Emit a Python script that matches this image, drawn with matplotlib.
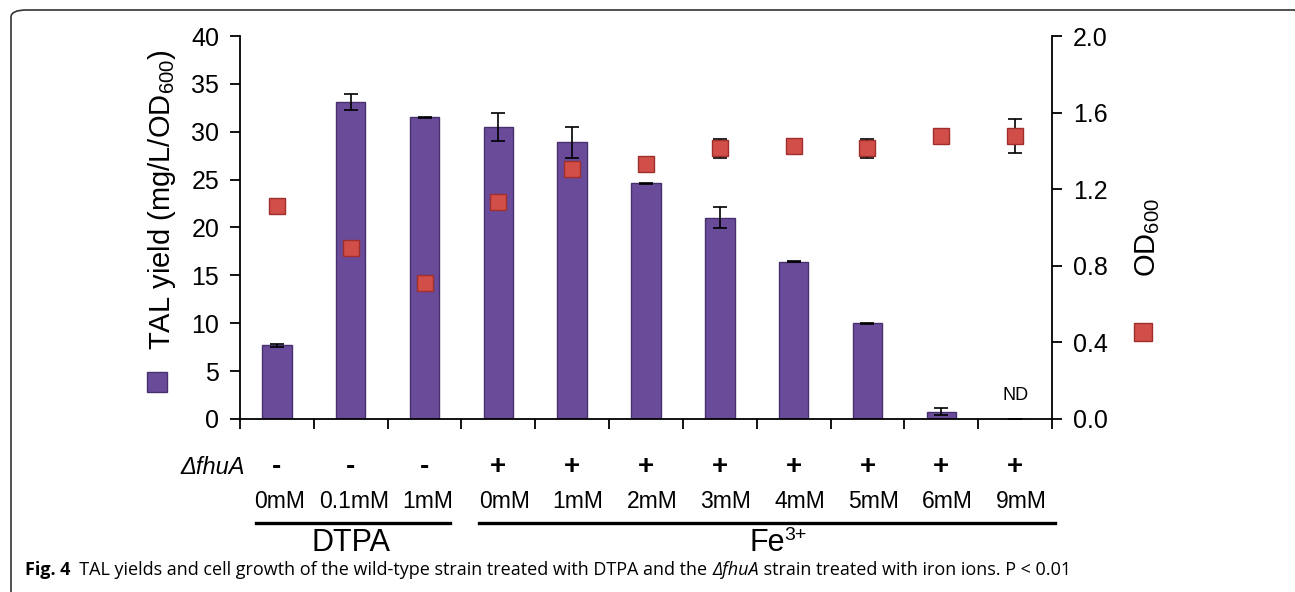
#!/usr/bin/env python3
"""TAL yield bars with OD600 squares on a twin axis (DTPA vs Fe3+ treatments)."""

import matplotlib

matplotlib.use("Agg")
import matplotlib.pyplot as plt
from matplotlib.patches import FancyBboxPatch
from matplotlib.transforms import ScaledTranslation, blended_transform_factory

plt.rcParams["font.family"] = ["Liberation Sans", "DejaVu Sans"]
plt.rcParams["mathtext.fontset"] = "custom"
plt.rcParams["mathtext.rm"] = "Liberation Sans"
plt.rcParams["mathtext.it"] = "Liberation Sans:italic"

# data
conc_labels = ["0mM", "0.1mM", "1mM", "0mM", "1mM", "2mM", "3mM", "4mM", "5mM", "6mM", "9mM"]
strain_signs = ["-", "-", "-", "+", "+", "+", "+", "+", "+", "+", "+"]
tal_yield = [7.7, 33.1, 31.5, 30.5, 28.9, 24.6, 21.0, 16.4, 10.0, 0.77, 0.0]
tal_err = [0.15, 0.8, 0.05, 1.5, 1.6, 0.05, 1.1, 0.05, 0.05, 0.35, 0.0]
od600 = [1.114, 0.895, 0.709, 1.135, 1.305, 1.332, 1.414, 1.426, 1.414, 1.48, 1.479]
od_err = [0.0, 0.0, 0.0, 0.0, 0.0, 0.0, 0.05, 0.0, 0.05, 0.0, 0.09]

W, H = 1295, 592
BAR = "#6a4b9a"
BAR_EDGE = "#47306e"
SQ = "#d24f49"
SQ_EDGE = "#9e2f2c"


def fy(py):
    return 1 - py / H


def fx(px):
    return px / W


fig = plt.figure(figsize=(W / 100, H / 100), dpi=100)
ax = fig.add_axes([fx(240), fy(419), fx(1052) - fx(240), fy(36) - fy(419)])
ax2 = ax.twinx()

x = list(range(len(tal_yield)))
ax.bar(x, tal_yield, width=0.4, color=BAR, edgecolor=BAR_EDGE, linewidth=1.0, zorder=2)
ax.errorbar(x, tal_yield, yerr=tal_err, fmt="none", ecolor="black", elinewidth=1.2,
            capsize=5, capthick=1.2, zorder=3)
ax2.errorbar(x, od600, yerr=od_err, fmt="none", ecolor="black", elinewidth=1.2,
             capsize=5, capthick=1.2, zorder=3)
ax2.plot(x, od600, linestyle="none", marker="s", markersize=12, markerfacecolor=SQ,
         markeredgecolor=SQ_EDGE, markeredgewidth=1.0, zorder=4)

ax.set_xlim(-0.5, len(x) - 0.5)
ax.set_ylim(0, 40)
ax.set_yticks(range(0, 41, 5))
od_ticks = [0.0, 0.4, 0.8, 1.2, 1.6, 2.0]
ax2.set_ylim(0, 2.0)
ax2.set_yticks(od_ticks)
ax2.set_yticklabels([f"{v:.1f}" for v in od_ticks])
ax.set_xticks([i - 0.5 for i in range(len(x) + 1)])
ax.set_xticklabels([])

ax.spines["top"].set_visible(False)
ax.spines["right"].set_visible(False)
ax.spines["left"].set_linewidth(1.3)
ax.spines["bottom"].set_linewidth(1.3)
ax2.spines["top"].set_visible(False)
ax2.spines["left"].set_visible(False)
ax2.spines["bottom"].set_visible(False)
ax2.spines["right"].set_linewidth(1.3)

ax.tick_params(axis="y", direction="out", length=7, width=1.3, labelsize=18, pad=8)
ax.tick_params(axis="x", direction="out", length=7, width=1.3)
ax2.tick_params(axis="y", direction="out", length=7, width=1.3, labelsize=18, pad=8)

# axis titles with their Excel-style legend squares
fig.text(fx(162), fy(200), "TAL yield (mg/L/OD$_{600}$)", rotation=90, ha="center",
         va="center", fontsize=21)
fig.text(fx(1148), fy(237), "OD$_{600}$", rotation=90, ha="center", va="center", fontsize=21)
fig.lines.append(plt.Line2D([fx(157)], [fy(382)], transform=fig.transFigure, marker="s",
                            markersize=14, markerfacecolor=BAR, markeredgecolor=BAR_EDGE,
                            linestyle="none"))
fig.lines.append(plt.Line2D([fx(1143)], [fy(332)], transform=fig.transFigure, marker="s",
                            markersize=13, markerfacecolor=SQ, markeredgecolor=SQ_EDGE,
                            linestyle="none"))

ax.text(10, 1.6, "ND", ha="center", va="bottom", fontsize=13)

# treatment annotations under the axis
tr = blended_transform_factory(ax.transData, fig.transFigure)
fig.text(fx(245), fy(468), "ΔfhuA", ha="right", va="center", fontsize=17, style="italic")
for i, (sign, lab) in enumerate(zip(strain_signs, conc_labels)):
    fig.text(i, fy(467), sign, transform=tr, ha="center", va="center", fontsize=20,
             fontweight="bold")
    shift = 6 / 100 if sign == "+" else 3 / 100
    lab_tr = tr + ScaledTranslation(shift, 0, fig.dpi_scale_trans)
    fig.text(i, fy(501), lab, transform=lab_tr, ha="center", va="center", fontsize=16.5)

fig.lines.append(plt.Line2D([fx(256), fx(450)], [fy(523), fy(523)], transform=fig.transFigure,
                            color="black", linewidth=2.4))
fig.lines.append(plt.Line2D([fx(479), fx(1055)], [fy(523), fy(523)], transform=fig.transFigure,
                            color="black", linewidth=2.4))
fig.text(1, fy(543), "DTPA", transform=tr, ha="center", va="center", fontsize=22)

renderer = fig.canvas.get_renderer()
fe = fig.text(fx(749), fy(543), "Fe", ha="left", va="center", fontsize=22)
fe_w = fe.get_window_extent(renderer=renderer).width
fig.text(fx(749) + fe_w / W, fy(536), "3+", ha="left", va="center", fontsize=14)

# rounded frame
frame = FancyBboxPatch((fx(11), fy(640)), fx(1310) - fx(11), fy(10) - fy(640),
                       boxstyle="round,pad=0,rounding_size=0.012", transform=fig.transFigure,
                       facecolor="none", edgecolor="#333333", linewidth=1.2)
fig.patches.append(frame)

# caption
cap_font = ["Open Sans", "DejaVu Sans"]
parts = [
    ("Fig. 4", "bold", "normal"),
    ("  TAL yields and cell growth of the wild-type strain treated with DTPA and the ", "normal", "normal"),
    ("ΔfhuA", "normal", "italic"),
    (" strain treated with iron ions. P < 0.01", "normal", "normal"),
]
cx = fx(25)
for txt, weight, style in parts:
    t = fig.text(cx, fy(570), txt, ha="left", va="center", fontsize=13, family=cap_font,
                 fontweight=weight, style=style)
    cx += t.get_window_extent(renderer=renderer).width / W

fig.savefig("out.png", dpi=100)
